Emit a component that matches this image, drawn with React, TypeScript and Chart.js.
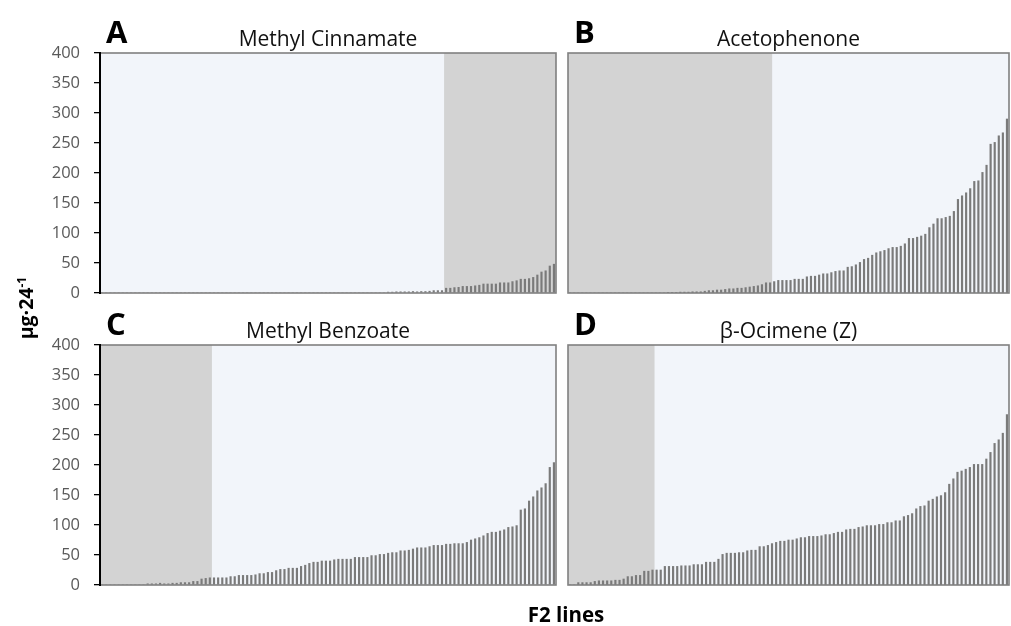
import React, { useEffect, useRef } from 'react';
import { Chart, registerables } from 'chart.js';

Chart.register(...registerables);

// ---- data ----
const yTickValues = [0, 50, 100, 150, 200, 250, 300, 350, 400];
const panelLetters = ['A', 'B', 'C', 'D'];
const compoundNames = ['Methyl Cinnamate', 'Acetophenone', 'Methyl Benzoate', 'β-Ocimene (Z)'];
const yAxisTitle = 'µg·24';
const yAxisTitleSup = '-1';
const xAxisTitle = 'F2 lines';

const methylCinnamate = [
  0, 0, 0, 0, 0, 0, 0, 0, 0, 0, 0, 0, 0, 0, 0, 0, 0, 0, 0, 0,
  0, 0, 0, 0, 0, 0, 0, 0, 0, 0, 0, 0, 0, 0, 0, 0, 0, 0, 0, 0,
  0, 0, 0, 0, 0, 0, 0, 0, 0, 0, 0, 0, 0, 0, 0, 0, 0, 0, 0, 0,
  0, 0, 0, 0, 0, 0, 0, 0, 0,
  1.5, 1.5, 2, 2, 2, 2, 2.5, 2, 2.5, 2.5, 3, 4, 4, 4,
  8, 8, 9, 9.5, 11, 11, 11, 12, 13, 15, 15, 15, 15, 17, 17, 17, 19, 20.5, 23, 23,
  24, 26, 30, 35, 37, 45, 48,
];
const acetophenone = [
  0, 0, 0, 0, 0, 0, 0, 0, 0, 0, 0, 0, 0, 0, 0, 0, 0, 0, 0, 0, 0, 0, 0, 0,
  1, 1, 1, 1.5, 1.5, 1.5, 2, 2, 2, 3, 4, 4, 5, 5, 6, 7, 7, 8, 8, 9, 10, 11, 12, 14, 17, 17,
  19, 21, 21, 21, 21, 23, 23, 23, 27, 28, 28, 30, 32, 32, 34, 36, 37, 37, 43, 44,
  47, 51, 56, 58, 63, 67, 69, 71, 74, 76, 76, 78, 82, 91, 91, 93, 95, 98, 109, 115,
  124, 124, 126, 128, 136, 156, 162, 167, 174, 186, 187, 201, 213, 248, 251, 262, 267, 290,
];
const methylBenzoate = [
  0, 0, 0, 0, 0, 0, 0, 0, 0, 0, 0,
  2, 2, 2, 3, 2, 2, 3, 3, 4, 4, 4, 6, 6, 10, 11, 12,
  12, 12, 12, 12, 14, 14, 16, 16, 16, 16, 17, 19, 19, 21, 21, 24, 26, 26, 28, 28, 28, 31, 33, 36, 38, 38,
  40, 40, 40, 42, 43, 43, 43, 43, 46, 46, 46, 46, 49, 49, 51, 51, 53, 54, 54, 57,
  57, 58, 60, 62, 62, 62, 64, 66, 66, 66, 68, 68, 69, 69, 69, 71, 75, 77, 79, 82,
  86, 88, 88, 90, 92, 96, 97, 99, 125, 127, 140, 147, 157, 162, 169, 196, 204,
];
const ocimeneZ = [
  0, 0,
  4, 4, 4, 4, 6, 7, 7, 7, 7, 8, 8, 10, 14, 14, 16, 16, 23, 23, 25,
  25, 25, 31, 31, 31, 31, 32, 32, 32, 34, 34, 34, 38, 38, 38, 43, 51, 53, 53, 53,
  54, 54, 57, 58, 58, 64, 64, 66, 69, 71,
  73, 73, 75, 75, 77, 79, 79, 81, 81, 81, 82, 84, 84, 86, 88, 88, 92, 93, 93, 96,
  97, 99, 99, 99, 101, 101, 104, 104, 107, 107, 114, 116, 119, 127, 131, 132, 140, 143, 147, 149,
  154, 168, 177, 188, 190, 193, 196, 201, 201, 201, 210, 221, 236, 242, 253, 284,
];
// shaded index ranges (inclusive)
const shadeA = [83, 109];
const shadeB = [0, 49];
const shadeC = [0, 26];
const shadeD = [0, 20];

const PAGE_W = 1011;
const PAGE_H = 626;

type PanelProps = {
  letter: string;
  name: string;
  values: number[];
  shade: number[];
  showAxis: boolean;
  area: { left: number; top: number; right: number; bottom: number };
};

function Panel({ letter, name, values, shade, showAxis, area }: PanelProps) {
  const ref = useRef<HTMLCanvasElement>(null);
  useEffect(() => {
    if (!ref.current) return;
    const axisWidth = showAxis ? 100 : 0;
    const labels = values.map((_, i) => `F2-${i + 1}`);
    const decor = {
      id: 'panelDecor',
      beforeDatasetsDraw(chart: any) {
        const { ctx, chartArea: a, scales } = chart;
        const xs = scales.x;
        const half = (xs.getPixelForValue(1) - xs.getPixelForValue(0)) / 2;
        ctx.save();
        ctx.fillStyle = '#f2f5fa';
        ctx.fillRect(a.left, a.top, a.right - a.left, a.bottom - a.top);
        const s = Math.max(a.left, xs.getPixelForValue(shade[0]) - half);
        const e = Math.min(a.right, xs.getPixelForValue(shade[1]) + half);
        ctx.fillStyle = '#d3d3d3';
        ctx.fillRect(s, a.top, e - s, a.bottom - a.top);
        ctx.restore();
      },
      afterDatasetsDraw(chart: any) {
        const { ctx, chartArea: a } = chart;
        ctx.save();
        ctx.strokeStyle = '#808080';
        ctx.lineWidth = 1.6;
        ctx.strokeRect(a.left, a.top, a.right - a.left, a.bottom - a.top);
        if (showAxis) {
          ctx.strokeStyle = '#000000';
          ctx.lineWidth = 2;
          ctx.beginPath();
          ctx.moveTo(a.left, a.top - 1);
          ctx.lineTo(a.left, a.bottom + 1);
          ctx.stroke();
        }
        ctx.fillStyle = '#000000';
        ctx.textBaseline = 'alphabetic';
        ctx.textAlign = 'left';
        ctx.font = 'bold 31px "Open Sans"';
        ctx.fillText(letter, a.left + 6, a.top - 10.5);
        ctx.textAlign = 'center';
        ctx.font = '21px "Open Sans"';
        ctx.fillStyle = '#111111';
        ctx.fillText(name, (a.left + a.right) / 2, a.top - 7);
        ctx.restore();
      },
    };
    const chart = new Chart(ref.current, {
      type: 'bar',
      data: {
        labels,
        datasets: [
          {
            data: values,
            backgroundColor: '#7a7a7a',
            borderWidth: 0,
            barThickness: 1.5,
          },
        ],
      },
      options: {
        responsive: false,
        animation: false,
        events: [],
        layout: {
          padding: {
            left: area.left - axisWidth,
            top: area.top,
            right: PAGE_W - area.right,
            bottom: PAGE_H - area.bottom,
          },
        },
        plugins: {
          legend: { display: false },
          title: { display: false },
          tooltip: { enabled: false },
        },
        scales: {
          x: { display: false, grid: { display: false } },
          y: {
            display: showAxis,
            min: 0,
            max: 400,
            afterBuildTicks: (s: any) => {
              s.ticks = yTickValues.map((v) => ({ value: v }));
            },
            afterFit: (s: any) => {
              s.width = axisWidth;
              s.paddingTop = 0;
              s.paddingBottom = 0;
            },
            ticks: {
              color: '#595959',
              font: { family: 'Open Sans', size: 16.5 },
              padding: 14,
            },
            grid: {
              drawOnChartArea: false,
              drawTicks: true,
              tickLength: 6,
              color: '#000000',
              lineWidth: 1.3,
            },
            border: { display: false },
          },
        },
      },
      plugins: [decor],
    } as any);
    return () => chart.destroy();
  }, [letter, name, values, shade, showAxis, area]);
  return (
    <canvas
      ref={ref}
      width={PAGE_W}
      height={PAGE_H}
      style={{ position: 'absolute', left: 0, top: 0, width: PAGE_W, height: PAGE_H }}
    />
  );
}

const areaA = { left: 100, top: 53, right: 556, bottom: 293 };
const areaB = { left: 568, top: 53, right: 1009, bottom: 293 };
const areaC = { left: 100, top: 345, right: 556, bottom: 585 };
const areaD = { left: 568, top: 345, right: 1009, bottom: 585 };

export default function App() {
  return (
    <div style={{ position: 'absolute', left: 0, top: 0, width: PAGE_W, height: PAGE_H, background: '#ffffff', overflow: 'hidden' }}>
      <Panel letter={panelLetters[0]} name={compoundNames[0]} values={methylCinnamate} shade={shadeA} showAxis={true} area={areaA} />
      <Panel letter={panelLetters[1]} name={compoundNames[1]} values={acetophenone} shade={shadeB} showAxis={false} area={areaB} />
      <Panel letter={panelLetters[2]} name={compoundNames[2]} values={methylBenzoate} shade={shadeC} showAxis={true} area={areaC} />
      <Panel letter={panelLetters[3]} name={compoundNames[3]} values={ocimeneZ} shade={shadeD} showAxis={false} area={areaD} />
      <div
        style={{
          position: 'absolute',
          left: 26 - 60,
          top: 308 - 12,
          width: 120,
          height: 24,
          lineHeight: '24px',
          textAlign: 'center',
          transform: 'rotate(-90deg)',
          transformOrigin: '50% 50%',
          fontFamily: '"Open Sans", sans-serif',
          fontWeight: 'bold',
          fontSize: 19.5,
          color: '#000',
          whiteSpace: 'nowrap',
        }}
      >
        {yAxisTitle}
        <span style={{ fontSize: '0.62em', position: 'relative', top: '-0.55em' }}>{yAxisTitleSup}</span>
      </div>
      <div
        style={{
          position: 'absolute',
          left: 466,
          top: 604,
          width: 200,
          lineHeight: 1,
          textAlign: 'center',
          fontFamily: '"Open Sans", sans-serif',
          fontWeight: 'bold',
          fontSize: 20.5,
          color: '#000',
          whiteSpace: 'nowrap',
        }}
      >
        {xAxisTitle}
      </div>
    </div>
  );
}
